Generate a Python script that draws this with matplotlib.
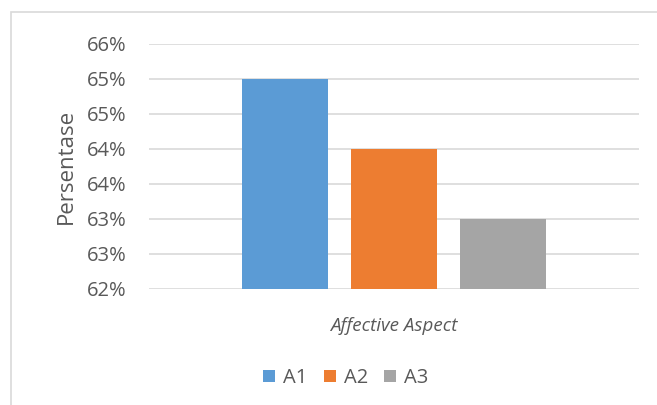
import matplotlib.pyplot as plt
from matplotlib.patches import Rectangle
from matplotlib.ticker import FixedLocator, FuncFormatter

labels = ["A1", "A2", "A3"]
values = [65.0, 64.0, 63.0]
colors = ["#5b9bd5", "#ed7d31", "#a5a5a5"]
yticks = [62.0, 62.5, 63.0, 63.5, 64.0, 64.5, 65.0, 65.5]

plt.rcParams['font.family'] = ['Open Sans', 'DejaVu Sans']
txt = "#595959"

fig = plt.figure(figsize=(6.57, 4.05), dpi=100)
ax = fig.add_axes([149/657, 1-289/405, 490/657, 245/405])

# chart border
fig.patches.append(Rectangle((11/657, -0.1), 2.0, (1-12/405)+0.1, transform=fig.transFigure,
                             fill=False, edgecolor="#d9d9d9", linewidth=1.2))

bars = []
for i, (lab, v, c) in enumerate(zip(labels, values, colors)):
    b = ax.bar(i, v - 62.0, bottom=62.0, width=86/109, color=c, label=lab, zorder=3)
    bars.append(b)

ax.set_xlim(-136/109, 2 + 136/109)
ax.set_ylim(62.0, 65.5)
ax.yaxis.set_major_locator(FixedLocator(yticks))
ax.yaxis.set_major_formatter(FuncFormatter(lambda v, p: "%d%%" % int(v + 0.5)))
ax.set_xticks([])
ax.grid(axis='y', color="#d9d9d9", linewidth=1.2, zorder=0)
for s in ax.spines.values():
    s.set_visible(False)
ax.tick_params(axis='y', length=0, pad=16, labelsize=14.5, labelcolor=txt)

ax.set_ylabel("Persentase", fontsize=16, color=txt, labelpad=7)
ax.set_xlabel("Affective Aspect", fontsize=13.5, color=txt, style='italic', labelpad=20)

fig.legend(handles=[b[0] for b in bars], labels=labels, loc='center',
           bbox_to_anchor=(346/657, 1-378/405), ncol=3, frameon=False,
           fontsize=14.5, labelcolor=txt, handlelength=0.6, handleheight=0.6,
           handletextpad=0.4, columnspacing=0.8)

fig.savefig("out.png", dpi=100, facecolor="white")
